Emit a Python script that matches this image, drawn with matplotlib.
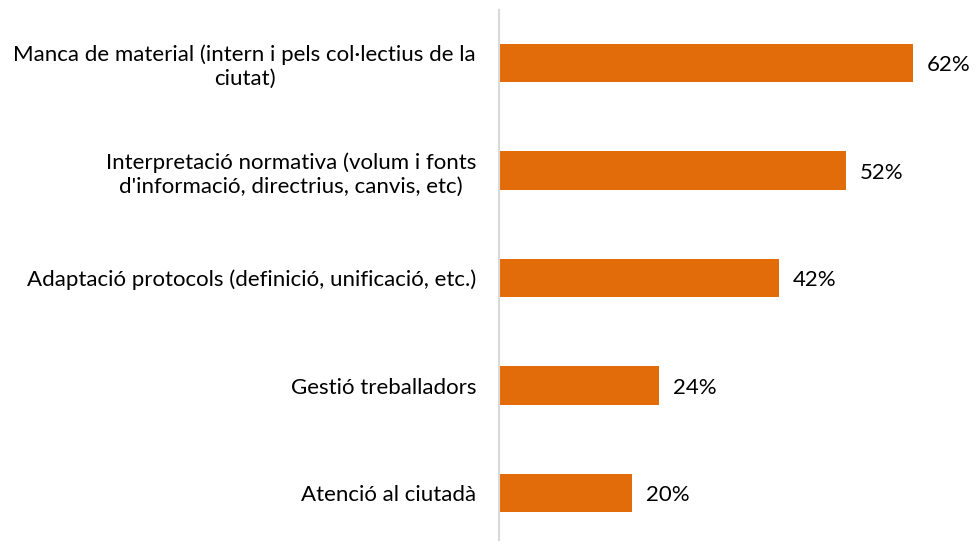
import matplotlib.pyplot as plt

categories = [
    "Manca de material (intern i pels col·lectius de la\nciutat)",
    "Interpretació normativa (volum i fonts\nd'informació, directrius, canvis, etc)",
    "Adaptació protocols (definició, unificació, etc.)",
    "Gestió treballadors",
    "Atenció al ciutadà",
]
values = [62, 52, 42, 24, 20]
value_labels = ["62%", "52%", "42%", "24%", "20%"]

plt.rcParams['font.family'] = ['Lato', 'DejaVu Sans']

fig = plt.figure(figsize=(9.76, 5.45), dpi=100)
ax = fig.add_axes([499 / 976, 5 / 545, 467 / 976, 530 / 545])

y = list(range(len(categories)))
ax.barh(y, values, height=0.355, color='#E36C0A')
ax.set_ylim(4 + 0.437, -0.493)
ax.set_xlim(0, 70)

for i, v in enumerate(values):
    ax.text(v + 2.1, i + 0.02, value_labels[i], va='center', ha='left', fontsize=16, color='#000000')

ax.set_yticks(y)
ax.set_yticklabels(categories, fontsize=16, multialignment='center', linespacing=1.25)
ax.tick_params(axis='y', length=0, pad=16.5)
ax.set_xticks([])
for s in ['top', 'right', 'bottom']:
    ax.spines[s].set_visible(False)
ax.spines['left'].set_color('#D9D9D9')
ax.spines['left'].set_linewidth(1.5)

fig.savefig('out.png', dpi=100)
